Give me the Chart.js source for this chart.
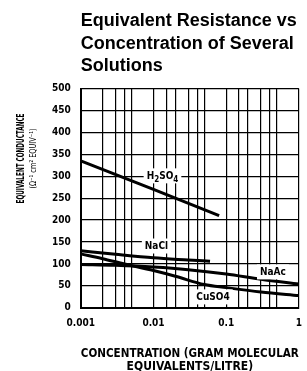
<!DOCTYPE html>
<html>
<head>
<meta charset="utf-8">
<script src="https://cdn.jsdelivr.net/npm/chart.js@4/dist/chart.umd.min.js"></script>
<style>
  body { margin: 0; background: #fff; }
  #wrap { width: 307px; height: 371px; position: relative; }
</style>
</head>
<body>
<div id="wrap"><canvas id="chart"></canvas></div>
<script>
// concentration (gram molecular equivalents / litre) and conductance readings
const h2so4Conc = [0.001, 0.01, 0.08];
const h2so4Cond = [335, 270, 210];

const naclConc = [0.001, 0.003, 0.01, 0.03, 0.06];
const naclCond = [130, 122, 114, 109, 106];

const naacConc = [0.001, 0.003, 0.01, 0.03, 0.1, 0.3, 1];
const naacCond = [99, 97, 93, 87, 77, 65, 54];

const cuso4Conc = [0.001, 0.002, 0.004, 0.01, 0.02, 0.05, 0.1, 0.3, 1];
const cuso4Cond = [123, 112, 100, 85, 72, 53, 46, 36, 28];

const xTickValues = [0.001, 0.01, 0.1, 1];
const xTickLabels = ["0.001", "0.01", "0.1", "1"];
const gridSteps = [1, 2, 3, 4, 5];   // grid lines at 1..5 of each decade

// curve label anchors [conc, conductance]
const curveLabels = [
  { text: "H2SO4", x: 0.0133, y: 302, sub: true },
  { text: "NaCl", x: 0.011, y: 142 },
  { text: "NaAc", x: 0.44, y: 83 },
  { text: "CuSO4", x: 0.066, y: 26 }
];

const NARROW = "'DejaVu Sans Condensed', 'Liberation Sans', sans-serif";

function pts(xs, ys) {
  return xs.map((x, i) => ({ x: x, y: ys[i] }));
}

function series(xs, ys) {
  return {
    data: pts(xs, ys),
    borderColor: "#000",
    borderWidth: 3,
    pointRadius: 0,
    fill: false,
    tension: 0.4,
    cubicInterpolationMode: "monotone"
  };
}

// label text, digits as subscripts when asked (H2SO4)
function drawLabel(ctx, text, withSub, cx, cy, size) {
  const parts = [];
  for (const ch of text) {
    parts.push({ ch: ch, sub: withSub && /[0-9]/.test(ch) });
  }
  const big = "bold " + size + "px " + NARROW;
  const small = "bold " + Math.round(size * 0.8) + "px " + NARROW;
  let w = 0;
  parts.forEach(p => {
    ctx.font = p.sub ? small : big;
    p.w = ctx.measureText(p.ch).width;
    w += p.w;
  });
  ctx.fillStyle = "#fff";
  ctx.fillRect(cx - w / 2 - 3, cy - size * 0.7, w + 6, size * 1.5);
  ctx.fillStyle = "#000";
  ctx.textBaseline = "alphabetic";
  ctx.textAlign = "left";
  let x = cx - w / 2;
  parts.forEach(p => {
    ctx.font = p.sub ? small : big;
    ctx.fillText(p.ch, x, cy + size * 0.35 + (p.sub ? size * 0.3 : 0));
    x += p.w;
  });
}

// squeeze text into a given width (condensed lettering)
function fitText(ctx, text, x, y, width) {
  const w = ctx.measureText(text).width;
  ctx.save();
  ctx.translate(x, y);
  ctx.scale(width / w, 1);
  ctx.fillText(text, 0, 0);
  ctx.restore();
}

const annotate = {
  id: "annotate",
  afterDatasetsDraw(chart) {
    const ctx = chart.ctx;
    const xs = chart.scales.x, ys = chart.scales.y;
    ctx.save();
    curveLabels.forEach(l => {
      drawLabel(ctx, l.text, !!l.sub, xs.getPixelForValue(l.x), ys.getPixelForValue(l.y), 10);
    });
    ctx.restore();
  },
  afterDraw(chart) {
    // rotated y axis title
    const ctx = chart.ctx;
    const cy = chart.chartArea.top + 70;
    ctx.save();
    ctx.fillStyle = "#000";
    ctx.textAlign = "center";
    ctx.textBaseline = "middle";
    ctx.translate(21, cy);
    ctx.rotate(-Math.PI / 2);
    ctx.font = "bold 10px " + NARROW;
    fitText(ctx, "EQUIVALENT CONDUCTANCE", 0, 0, 90);
    ctx.font = "9px " + NARROW;
    fitText(ctx, "(\u03A9\u207B\u00B9 cm\u00B2 EQUIV\u207B\u00B9)", 0, 13, 60);
    ctx.restore();
  }
};

new Chart(document.getElementById("chart"), {
  type: "line",
  data: {
    datasets: [
      series(h2so4Conc, h2so4Cond),
      series(naclConc, naclCond),
      series(naacConc, naacCond),
      series(cuso4Conc, cuso4Cond)
    ]
  },
  options: {
    responsive: true,
    maintainAspectRatio: false,
    animation: false,
    layout: { padding: { left: 42, right: 0, bottom: -2 } },
    plugins: {
      legend: { display: false },
      tooltip: { enabled: false },
      title: {
        display: true,
        fullSize: false,
        align: "start",
        text: ["Equivalent Resistance vs", "Concentration of Several", "Solutions"],
        color: "#000",
        font: { family: "'Liberation Sans', Arial, sans-serif", size: 18, weight: "bold", lineHeight: 1.25 },
        padding: { top: 10, bottom: 11 }
      }
    },
    scales: {
      x: {
        type: "logarithmic",
        min: 0.001,
        max: 1,
        afterBuildTicks(axis) {
          axis.ticks = axis.ticks.filter(t => {
            const m = Math.round(t.value / Math.pow(10, Math.floor(Math.log10(t.value) + 1e-9)));
            return gridSteps.includes(m);
          });
        },
        // invisible tick marks keep the label gap without widening the right margin
        grid: { color: "#000", lineWidth: 1.2, drawTicks: true, tickLength: 5, tickColor: "rgba(0,0,0,0)" },
        border: { color: "#000", width: 2 },
        ticks: {
          autoSkip: false,
          maxRotation: 0,
          padding: 5,
          color: "#000",
          font: { family: NARROW, size: 10, weight: "bold" },
          callback(value) {
            const i = xTickValues.findIndex(v => Math.abs(v - value) / v < 1e-6);
            return i >= 0 ? xTickLabels[i] : "";
          }
        },
        title: {
          display: true,
          text: ["CONCENTRATION (GRAM MOLECULAR", "EQUIVALENTS/LITRE)"],
          color: "#000",
          font: { family: NARROW, size: 12, weight: "bold", lineHeight: 1.05 },
          padding: { top: 13, bottom: 0 }
        }
      },
      y: {
        min: 0,
        max: 500,
        ticks: {
          stepSize: 50,
          padding: 10,
          color: "#000",
          font: { family: NARROW, size: 10, weight: "bold" }
        },
        grid: { color: "#000", lineWidth: 1.2, drawTicks: false },
        border: { color: "#000", width: 2 }
      }
    }
  },
  plugins: [annotate]
});
</script>
</body>
</html>
